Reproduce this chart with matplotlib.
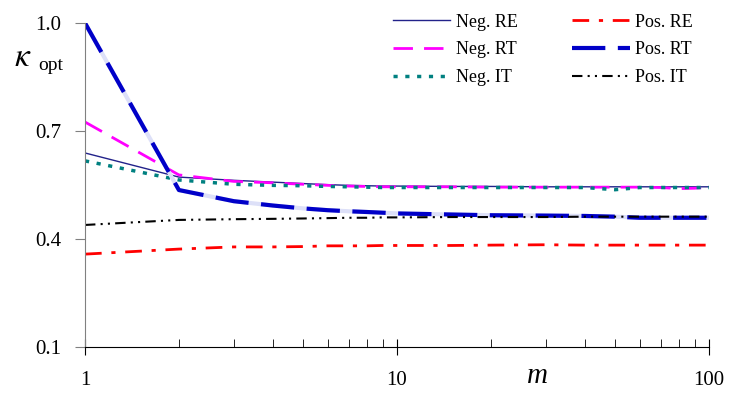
import numpy as np
import matplotlib.pyplot as plt

# values
m = [1, 2, 3, 4, 5, 6, 7, 8, 9, 10, 15, 20, 30, 40, 50, 60, 70, 80, 90, 100]

neg_re = [0.639, 0.572, 0.563, 0.558, 0.554, 0.551, 0.549, 0.548, 0.547, 0.547,
          0.546, 0.546, 0.545, 0.545, 0.545, 0.545, 0.545, 0.545, 0.545, 0.545]
neg_rt = [0.725, 0.578, 0.560, 0.556, 0.552, 0.549, 0.547, 0.546, 0.545, 0.545,
          0.545, 0.544, 0.544, 0.544, 0.544, 0.544, 0.543, 0.540, 0.541, 0.544]
neg_it = [0.617, 0.564, 0.552, 0.549, 0.548, 0.546, 0.545, 0.544, 0.543, 0.543,
          0.543, 0.543, 0.543, 0.543, 0.537, 0.543, 0.543, 0.543, 0.543, 0.543]
pos_re = [0.358, 0.372, 0.378, 0.378, 0.379, 0.381, 0.381, 0.381, 0.382, 0.382,
          0.382, 0.383, 0.384, 0.383, 0.383, 0.383, 0.383, 0.383, 0.383, 0.383]
pos_rt = [1.000, 0.536, 0.505, 0.493, 0.485, 0.480, 0.477, 0.475, 0.473, 0.471,
          0.468, 0.466, 0.465, 0.464, 0.462, 0.459, 0.459, 0.459, 0.459, 0.459]
pos_it = [0.439, 0.453, 0.455, 0.456, 0.457, 0.458, 0.459, 0.459, 0.460, 0.460,
          0.461, 0.461, 0.461, 0.462, 0.462, 0.462, 0.462, 0.462, 0.462, 0.462]

yticks = [0.1, 0.4, 0.7, 1.0]

plt.rcParams['font.family'] = ['Liberation Serif', 'DejaVu Serif']
plt.rcParams['mathtext.fontset'] = 'stix'

fig = plt.figure(figsize=(7.29, 3.96), dpi=100)
ax = fig.add_axes([85 / 729, 1 - 347 / 396, 624 / 729, 324 / 396])

ax.plot(m, neg_re, color='#22228a', lw=1.0, label='Neg. RE')
ax.plot(m, neg_rt, color='#ff00ff', lw=2.0, dashes=(7, 4), label='Neg. RT')
ax.plot(m, neg_it, color='#008080', lw=2.5, dashes=(1.2, 2.2), label='Neg. IT')
ax.plot(m, pos_re, color='#ff0000', lw=2.0, dashes=(6, 3.5, 1.5, 3.5), label='Pos. RE')
ax.plot(m, pos_rt, color='#dde0f8', lw=3.0)
ax.plot(m, pos_rt, color='#0000c8', lw=3.0, dashes=(8, 3), label='Pos. RT')
ax.plot(m, pos_it, color='black', lw=1.5, dashes=(5, 2.5, 1, 2.5, 1, 2.5), label='Pos. IT')

ax.set_xscale('log')
ax.set_xlim(1, 100)
ax.set_ylim(0.1, 1.0)
ax.set_yticks(yticks)
ax.set_yticklabels([f'{v:.1f}' for v in yticks])
ax.set_xticks([1, 10, 100])
ax.set_xticklabels(['1', '10', '100'])

for s in ['top', 'right']:
    ax.spines[s].set_visible(False)
ax.spines['left'].set_color('#808080')
ax.spines['bottom'].set_color('black')

ax.tick_params(axis='y', which='major', direction='out', length=7, color='#808080',
               labelsize=15, pad=10)
ax.tick_params(axis='x', which='major', direction='inout', length=12, labelsize=15, pad=11)
ax.tick_params(axis='x', which='minor', direction='in', length=6)

fig.text(14 / 729, 1 - 58 / 396, r'$\kappa$', fontsize=24, va='center', ha='left')
fig.text(38 / 729, 1 - 66 / 396, 'opt', fontsize=14, va='center', ha='left')
fig.text(537 / 729, 1 - 376 / 396, 'm', fontsize=21, style='italic', va='center', ha='center')

handles, labels = ax.get_legend_handles_labels()
ax.legend(handles, labels, ncol=2, frameon=False, fontsize=13,
          loc='upper right', bbox_to_anchor=(1.0, 1.079),
          handlelength=3.2, columnspacing=3.0, labelspacing=0.6, handletextpad=0.3)

fig.savefig('out.png', dpi=100)
